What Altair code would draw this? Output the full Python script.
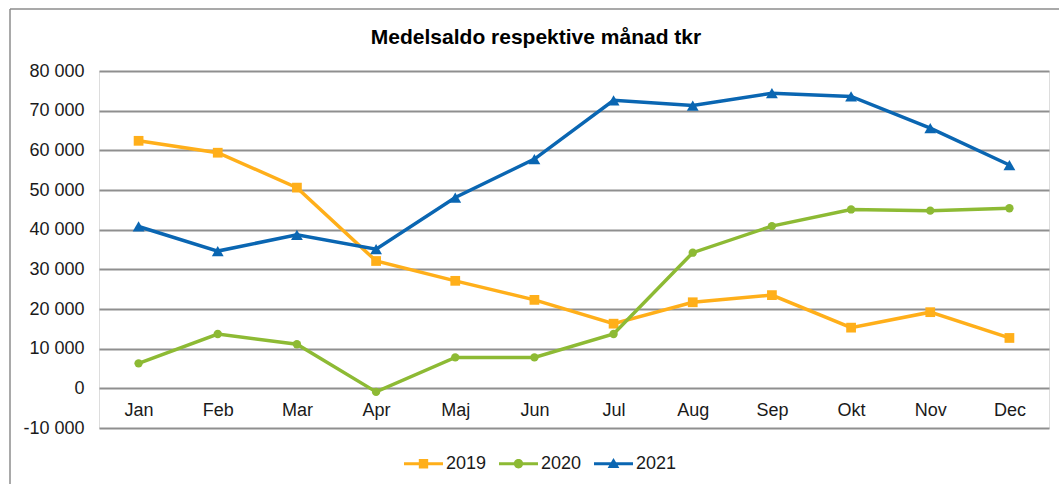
import altair as alt
import pandas as pd

months = ["Jan", "Feb", "Mar", "Apr", "Maj", "Jun", "Jul", "Aug", "Sep", "Okt", "Nov", "Dec"]
years = ["2019", "2020", "2021"]
v2019 = [62400, 59400, 50600, 32100, 27100, 22300, 16300, 21700, 23500, 15300, 19200, 12700]
v2020 = [6300, 13700, 11100, -900, 7800, 7800, 13700, 34200, 40900, 45100, 44800, 45400]
v2021 = [40800, 34600, 38700, 35100, 48100, 57800, 72600, 71300, 74400, 73600, 65600, 56300]
colors = ["#FFAF1A", "#8DBA34", "#0A66B2"]
y_ticks = [-10000, 0, 10000, 20000, 30000, 40000, 50000, 60000, 70000, 80000]
title_text = "Medelsaldo respektive månad tkr"

rows = []
for yr, vals in zip(years, [v2019, v2020, v2021]):
    for m, v in zip(months, vals):
        rows.append({"month": m, "year": yr, "value": v})
df = pd.DataFrame(rows)

label_expr = "(datum.value < 0 ? '-' : '') + replace(format(abs(datum.value), ','), ',', ' ')"

x_enc = alt.X(
    "month:N", sort=months,
    scale=alt.Scale(type="point", padding=0.5),
    axis=alt.Axis(title=None, domain=False, ticks=False, tickSize=0, grid=False,
                  labelAngle=0, labelFontSize=18, labelColor="#1a1a1a",
                  labelBaseline="middle", labelPadding=-18, labelFont="Liberation Sans"),
)
y_enc = alt.Y(
    "value:Q",
    scale=alt.Scale(domain=[-10000, 80000], nice=False, zero=False),
    axis=alt.Axis(title=None, domain=False, ticks=False, tickSize=0, values=y_ticks,
                  grid=True, gridColor="#8f8f8f", gridWidth=2,
                  labelFontSize=18, labelColor="#1a1a1a", labelPadding=15,
                  labelExpr=label_expr, labelFont="Liberation Sans"),
)

base = alt.Chart(df).encode(x=x_enc, y=y_enc)

shapes = ["square", "circle", "triangle-up"]
sizes = [95, 70, 140]
layers = []
for yr, col, shp, sz in zip(years, colors, shapes, sizes):
    sub = base.transform_filter(alt.datum.year == yr)
    layers.append(sub.mark_line(strokeWidth=3.5, color=col))
    layers.append(sub.mark_point(shape=shp, filled=True, size=sz, color=col, opacity=1))

legend_paths = [
    "M-1,-0.08H1V0.08H-1Z M-0.24,-0.24H0.24V0.24H-0.24Z",
    "M-1,-0.08H1V0.08H-1Z M-0.24,0A0.24,0.24 0 1,1 0.24,0A0.24,0.24 0 1,1 -0.24,0Z",
    "M-1,-0.08H1V0.08H-1Z M0,-0.3L0.3,0.22L-0.3,0.22Z",
]
leg_common = dict(
    title=None, orient="none", legendX=305, legendY=373, direction="horizontal",
    symbolSize=1521, symbolStrokeWidth=0, labelFontSize=18, labelColor="#1a1a1a",
    labelOffset=3, columnPadding=12, padding=0, labelFont="Liberation Sans",
)
legend_layer = (
    alt.Chart(df)
    .transform_filter("datum.year == 'none'")
    .mark_point(filled=True, opacity=1)
    .encode(
        x=x_enc, y=y_enc,
        fill=alt.Fill("year:N", scale=alt.Scale(domain=years, range=colors), legend=alt.Legend(**leg_common)),
        shape=alt.Shape("year:N", scale=alt.Scale(domain=years, range=legend_paths), legend=alt.Legend(**leg_common)),
    )
)

frame_df = pd.DataFrame({"k": [0]})
frame_top = alt.Chart(frame_df).mark_rule(color="#8c8c8c", strokeWidth=1.5).encode(
    x=alt.value(-89), x2=alt.value(961), y=alt.value(-62))
frame_left = alt.Chart(frame_df).mark_rule(color="#8c8c8c", strokeWidth=1.5).encode(
    x=alt.value(-89), y=alt.value(-62), y2=alt.value(414))
title_mark = alt.Chart(frame_df).mark_text(
    text=title_text, fontSize=21, fontWeight="bold", font="Liberation Sans",
    color="#000000", align="center", baseline="alphabetic",
).encode(x=alt.value(437), y=alt.value(-27))

chart = alt.layer(*layers, legend_layer, frame_top, frame_left, title_mark).properties(
    width=950, height=357,
    autosize=alt.AutoSizeParams(type="none"),
    padding={"left": 99, "top": 71, "right": 10, "bottom": 56},
).configure_view(stroke=None).configure(background="white")

chart.save("out.html", embed_options={"renderer": "svg", "actions": False})
